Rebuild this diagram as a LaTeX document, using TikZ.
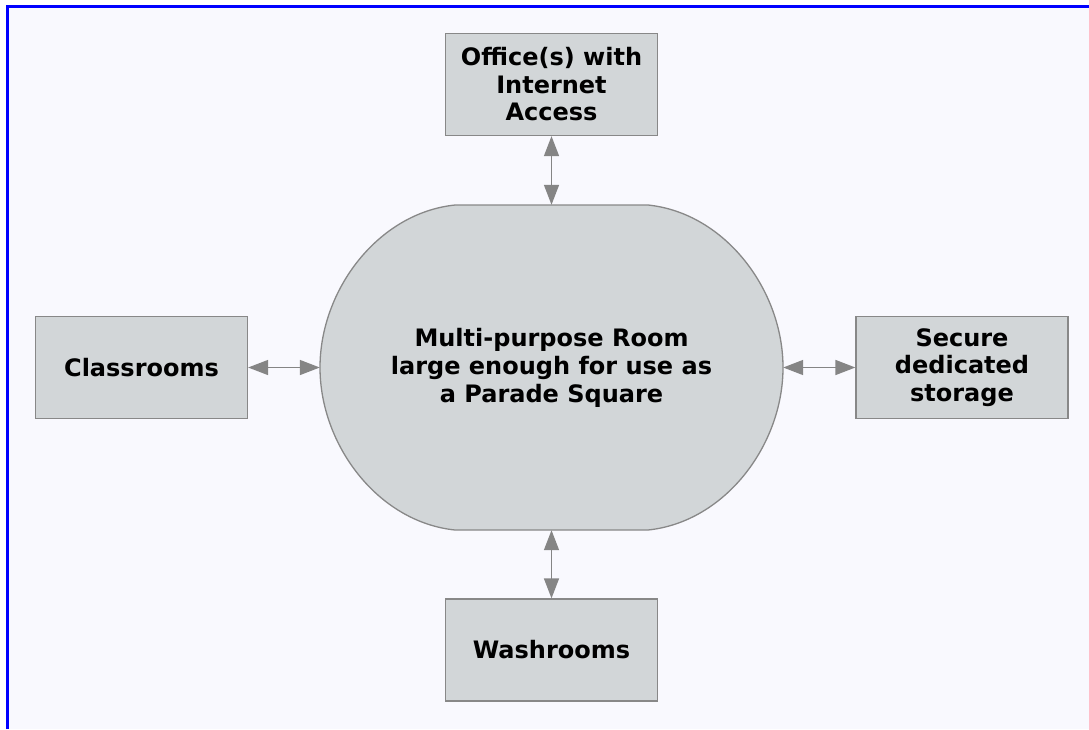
\documentclass[tikz,border=0pt]{standalone}
\usepackage{fontspec}
\setmainfont{DejaVu Sans}
\usetikzlibrary{arrows.meta}
\definecolor{bgc}{HTML}{F9F9FE}
\definecolor{boxfill}{HTML}{D2D6D8}
\definecolor{edgec}{HTML}{888888}
\definecolor{arrowc}{HTML}{858585}
\definecolor{framec}{HTML}{0000FF}
\tikzset{
  box/.style={draw=edgec, line width=1.3pt, fill=boxfill, minimum width=212pt, minimum height=102pt,
    align=center, inner sep=0pt, font=\fontsize{24}{27.5}\selectfont\bfseries, text=black},
  roomtext/.style={draw=none, minimum width=463pt, minimum height=325pt, inner sep=0pt,
    align=center, font=\fontsize{24}{28}\selectfont\bfseries, text=black},
  link/.style={draw=arrowc, line width=1.5pt, {Triangle[length=20pt,width=15pt]}-{Triangle[length=20pt,width=15pt]}}
}
\begin{document}
\begin{tikzpicture}[x=1pt,y=-1pt]
\useasboundingbox (0,0) rectangle (1089,729);
\fill[white] (0,0) rectangle (1089,729);
\fill[bgc] (8,7) rectangle (1089,729);
\draw[framec, line width=2.7pt] (7.3,729) -- (7.3,6.3) -- (1089,6.3);
% central room shape
\draw[draw=edgec, line width=1.3pt, fill=boxfill]
  (455,205) -- (648,205)
  .. controls (725,213) and (783,290) .. (783,367.5)
  .. controls (783,445) and (725,522) .. (648,530)
  -- (455,530)
  .. controls (378,522) and (320,445) .. (320,367.5)
  .. controls (320,290) and (378,213) .. (455,205) -- cycle;
\node[roomtext] (room) at (551.5,367.5) {Multi-purpose Room\\large enough for use as\\a Parade Square};
\node[box] (office) at (551.5,84.5) {Office(s) with\\Internet\\Access};
\node[box] (class) at (141.5,367.5) {Classrooms};
\node[box] (store) at (962,367.5) {Secure\\dedicated\\storage};
\node[box] (wash) at (551.5,650) {Washrooms};
\draw[link] (office.south) -- (room.north);
\draw[link] (class.east) -- (room.west);
\draw[link] (store.west) -- (room.east);
\draw[link] (wash.north) -- (room.south);
\end{tikzpicture}
\end{document}
